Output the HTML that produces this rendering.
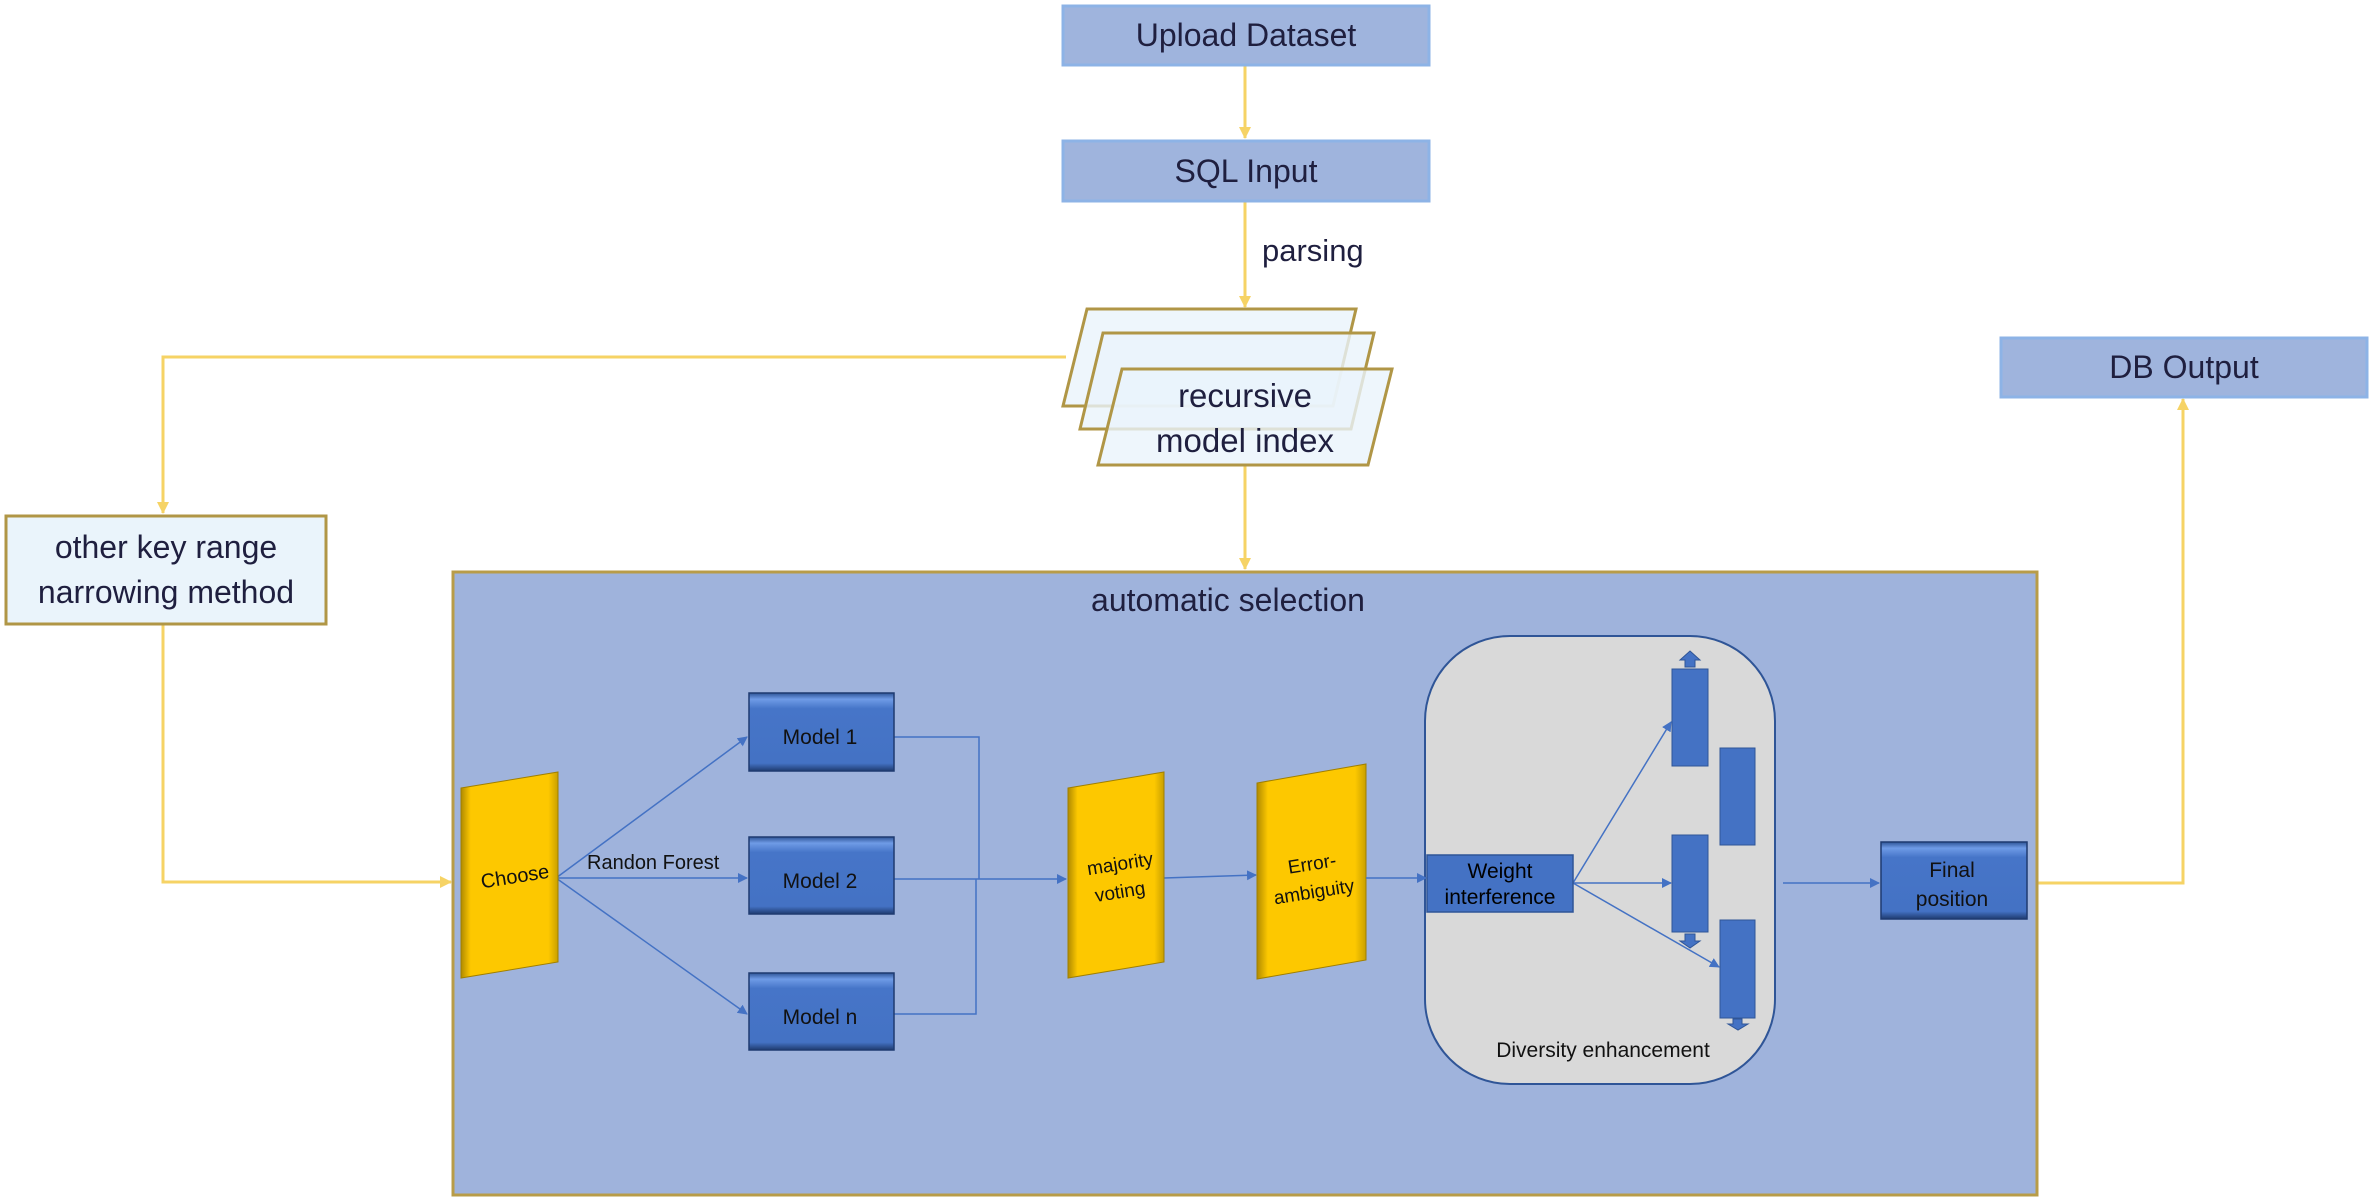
<!DOCTYPE html>
<html><head><meta charset="utf-8"><style>
html,body{margin:0;padding:0;background:#fff}
svg{display:block}
text{font-family:"Liberation Sans",sans-serif}
</style></head><body>
<svg width="2369" height="1198" viewBox="0 0 2369 1198" xmlns="http://www.w3.org/2000/svg">
<defs>
<marker id="ya" markerWidth="12" markerHeight="12" refX="11" refY="6" orient="auto" markerUnits="userSpaceOnUse"><path d="M0,0 L12,6 L0,12 z" fill="#f6d365"/></marker>
<marker id="ba" markerWidth="10" markerHeight="10" refX="9" refY="5" orient="auto" markerUnits="userSpaceOnUse"><path d="M0,0 L10,5 L0,10 z" fill="#4472c4"/></marker>
<linearGradient id="yg" x1="0" y1="0" x2="1" y2="0"><stop offset="0" stop-color="#b08a00"/><stop offset="0.1" stop-color="#fdc800"/><stop offset="0.9" stop-color="#fdc800"/><stop offset="1" stop-color="#c9a000"/></linearGradient>
<linearGradient id="bg" x1="0" y1="0" x2="0" y2="1"><stop offset="0" stop-color="#2f5597"/><stop offset="0.08" stop-color="#6f9be6"/><stop offset="0.2" stop-color="#4675c8"/><stop offset="0.9" stop-color="#4472c4"/><stop offset="1" stop-color="#1f3b70"/></linearGradient>
</defs>
<g fill="none" stroke="#f6d365" stroke-width="3">
<line x1="1245" y1="65" x2="1245" y2="138" marker-end="url(#ya)"/>
<line x1="1245" y1="201" x2="1245" y2="307" marker-end="url(#ya)"/>
<polyline points="1066,357 163,357 163,513" marker-end="url(#ya)"/>
<polyline points="163,624 163,882 451,882" marker-end="url(#ya)"/>
<line x1="1245" y1="465" x2="1245" y2="569" marker-end="url(#ya)"/>
<polyline points="2037,883 2183,883 2183,399" marker-end="url(#ya)"/>
</g>
<rect x="1063" y="6" width="366" height="59" fill="#9fb4dd" stroke="#8db3e6" stroke-width="3"/>
<text x="1246" y="46" font-size="32" text-anchor="middle" fill="#1f1f3f">Upload Dataset</text>
<rect x="1063" y="141" width="366" height="60" fill="#9fb4dd" stroke="#8db3e6" stroke-width="3"/>
<text x="1246" y="182" font-size="32" text-anchor="middle" fill="#1f1f3f">SQL Input</text>
<text x="1262" y="261" font-size="31" fill="#1f1f3f">parsing</text>
<rect x="2001" y="338" width="366" height="59" fill="#9fb4dd" stroke="#8db3e6" stroke-width="3"/>
<text x="2184" y="378" font-size="32" text-anchor="middle" fill="#1f1f3f">DB Output</text>
<rect x="6" y="516" width="320" height="108" fill="#eaf4fb" stroke="#b09646" stroke-width="3"/>
<text x="166" y="558" font-size="32" text-anchor="middle" fill="#1f1f3f">other key range</text>
<text x="166" y="603" font-size="32" text-anchor="middle" fill="#1f1f3f">narrowing method</text>
<g stroke="#b09646" stroke-width="3" fill="#eaf4fb" fill-opacity="0.8">
<polygon points="1087,309 1356,309 1333,406 1063,406"/>
<polygon points="1103,333 1374,333 1351,429 1080,429"/>
<polygon points="1122,369 1392,369 1368,465 1098,465"/>
</g>
<text x="1245" y="407" font-size="33" text-anchor="middle" fill="#1f1f3f">recursive</text>
<text x="1245" y="452" font-size="33" text-anchor="middle" fill="#1f1f3f">model index</text>
<rect x="453" y="572" width="1584" height="623" fill="#9fb3dc" stroke="#b89c48" stroke-width="3"/>
<text x="1228" y="611" font-size="32" text-anchor="middle" fill="#1f1f3f">automatic selection</text>
<g stroke="#4472c4" stroke-width="1.5" fill="none">
<line x1="556" y1="878" x2="747" y2="737" marker-end="url(#ba)"/>
<line x1="556" y1="878" x2="747" y2="878" marker-end="url(#ba)"/>
<line x1="556" y1="878" x2="747" y2="1014" marker-end="url(#ba)"/>
<polyline points="894,737 979,737 979,879"/>
<polyline points="894,1014 976,1014 976,879"/>
<line x1="894" y1="879" x2="1066" y2="879" marker-end="url(#ba)"/>
<line x1="1164" y1="878" x2="1256" y2="875" marker-end="url(#ba)"/>
<line x1="1783" y1="883" x2="1879" y2="883" marker-end="url(#ba)"/>
</g>
<g stroke="#a07f00" stroke-width="1">
<polygon points="461,788 558,772 558,962 461,978" fill="url(#yg)"/>
<polygon points="1068,788 1164,772 1164,962 1068,978" fill="url(#yg)"/>
<polygon points="1257,783 1366,764 1366,960 1257,979" fill="url(#yg)"/>
</g>
<text transform="translate(516,883) rotate(-9)" font-size="20" text-anchor="middle" fill="#111">Choose</text>
<text transform="translate(1121,870) rotate(-9)" font-size="19" text-anchor="middle" fill="#111">majority</text>
<text transform="translate(1121,898) rotate(-9)" font-size="19" text-anchor="middle" fill="#111">voting</text>
<text transform="translate(1313,870) rotate(-9)" font-size="19" text-anchor="middle" fill="#111">Error-</text>
<text transform="translate(1315,898) rotate(-9)" font-size="19" text-anchor="middle" fill="#111">ambiguity</text>
<text x="587" y="869" font-size="20" fill="#111">Randon Forest</text>
<g stroke="#1f3b70" stroke-width="1.5" fill="url(#bg)">
<rect x="749" y="693" width="145" height="78"/>
<rect x="749" y="837" width="145" height="77"/>
<rect x="749" y="973" width="145" height="77"/>
<rect x="1881" y="842" width="146" height="77"/>
</g>
<text x="820" y="744" font-size="21" text-anchor="middle" fill="#111">Model 1</text>
<text x="820" y="888" font-size="21" text-anchor="middle" fill="#111">Model 2</text>
<text x="820" y="1024" font-size="21" text-anchor="middle" fill="#111">Model n</text>
<text x="1952" y="877" font-size="21" text-anchor="middle" fill="#111">Final</text>
<text x="1952" y="906" font-size="21" text-anchor="middle" fill="#111">position</text>
<rect x="1425" y="636" width="350" height="448" rx="85" ry="85" fill="#d9d9d9" stroke="#2f5597" stroke-width="2"/>
<g stroke="#4472c4" stroke-width="1.5" fill="none">
<line x1="1573" y1="883" x2="1671" y2="722" marker-end="url(#ba)"/>
<line x1="1573" y1="883" x2="1671" y2="883" marker-end="url(#ba)"/>
<line x1="1573" y1="883" x2="1719" y2="967" marker-end="url(#ba)"/>
</g>
<line x1="1366" y1="878" x2="1426" y2="878" stroke="#4472c4" stroke-width="1.5" marker-end="url(#ba)"/>
<rect x="1427" y="855" width="146" height="57" fill="#4472c4" stroke="#2f5597" stroke-width="1.5"/>
<text x="1500" y="878" font-size="21" text-anchor="middle" fill="#000">Weight</text>
<text x="1500" y="904" font-size="21" text-anchor="middle" fill="#000">interference</text>
<g fill="#4472c4" stroke="#2f5597" stroke-width="1">
<rect x="1672" y="669" width="36" height="97"/>
<rect x="1720" y="748" width="35" height="97"/>
<rect x="1672" y="835" width="36" height="97"/>
<rect x="1720" y="920" width="35" height="98"/>
<polygon points="1690,651 1700,660 1695,660 1695,667 1685,667 1685,660 1680,660"/>
<polygon points="1685,934 1695,934 1695,941 1700,941 1690,948 1680,941 1685,941"/>
<polygon points="1733,1019 1742,1019 1742,1024 1748,1024 1738,1030 1728,1024 1733,1024"/>
</g>
<text x="1603" y="1057" font-size="21" text-anchor="middle" fill="#111">Diversity enhancement</text>
</svg>
</body></html>
